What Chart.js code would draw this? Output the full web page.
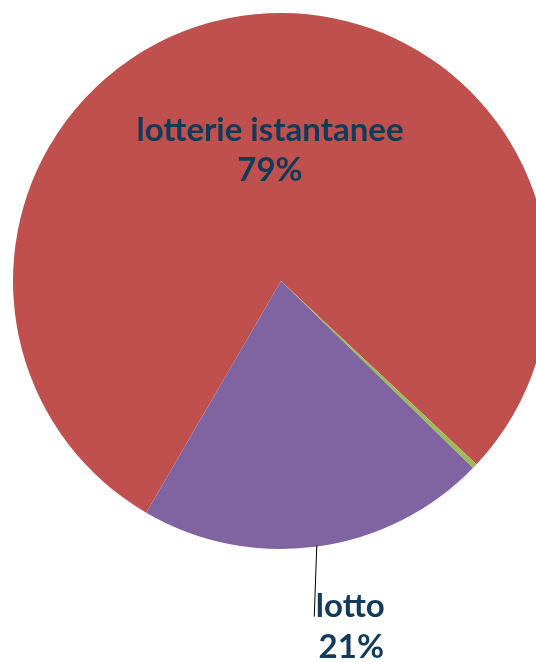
<!DOCTYPE html>
<html>
<head>
<meta charset="utf-8">
<script src="https://cdn.jsdelivr.net/npm/chart.js@4"></script>
<style>
  html, body { margin: 0; padding: 0; background: #fff; overflow: hidden; }
  #wrap { position: absolute; left: 0; top: 0; width: 562px; height: 662px; }
</style>
</head>
<body>
<div id="wrap"><canvas id="pie"></canvas></div>
<script>
// slice data (clockwise from the lower-left edge)
const labels = ['lotterie istantanee', 'altro', 'lotto'];
const values = [78.6, 0.3, 21.1];
const shownPct = ['79%', '', '21%'];
const colors = ['#C0504D', '#9BBB59', '#8064A2'];

const TEXT_COLOR = '#123A5A';
const FONT = 'bold 33px Lato';

// draws the Excel-style data labels (name + percent)
const sliceLabels = {
  id: 'sliceLabels',
  afterDatasetsDraw(chart) {
    const ctx = chart.ctx;
    const arcs = chart.getDatasetMeta(0).data;
    ctx.save();
    ctx.font = FONT;
    ctx.fillStyle = TEXT_COLOR;
    ctx.textAlign = 'center';
    ctx.textBaseline = 'alphabetic';

    // big slice: label inside
    let a = arcs[0];
    let mid = (a.startAngle + a.endAngle) / 2;
    let px = a.x + Math.cos(mid) * a.outerRadius * 0.49;
    let py = a.y + Math.sin(mid) * a.outerRadius * 0.49;
    ctx.fillText(labels[0], px + 8, py - 10);
    ctx.fillText(shownPct[0], px + 8, py + 30);

    // lotto: outside with leader line
    a = arcs[2];
    mid = (a.startAngle + a.endAngle) / 2;
    px = a.x + Math.cos(mid) * a.outerRadius;
    py = a.y + Math.sin(mid) * a.outerRadius;
    ctx.strokeStyle = '#000';
    ctx.lineWidth = 1;
    ctx.beginPath();
    ctx.moveTo(px - 0.5, py - 1);
    ctx.lineTo(px - 3, py + 70);
    ctx.stroke();
    ctx.fillText(labels[2], px + 33, py + 70);
    ctx.fillText(shownPct[2], px + 34, py + 111);
    ctx.restore();
  }
};

new Chart(document.getElementById('pie'), {
  type: 'pie',
  data: {
    labels: labels,
    datasets: [{
      data: values,
      backgroundColor: colors,
      borderWidth: 0
    }]
  },
  options: {
    responsive: true,
    maintainAspectRatio: false,
    animation: false,
    rotation: 210.2,
    layout: { padding: { top: 13, left: 13, right: 13, bottom: 113 } },
    plugins: {
      legend: { display: false },
      tooltip: { enabled: false }
    }
  },
  plugins: [sliceLabels]
});
</script>
</body>
</html>
